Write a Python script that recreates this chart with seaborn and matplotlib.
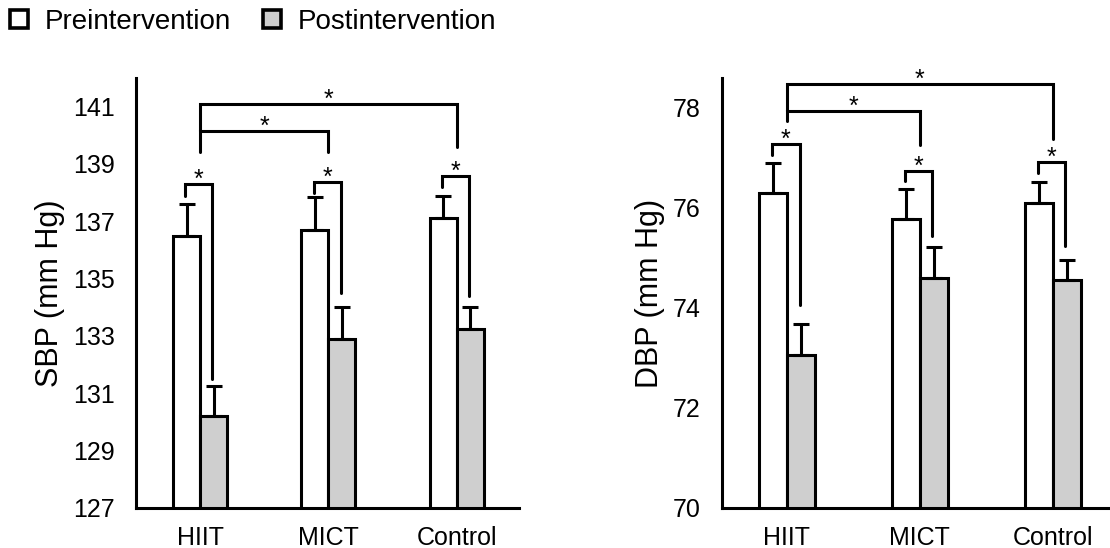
import pandas as pd
import numpy as np
import seaborn as sns
import matplotlib.pyplot as plt

groups = ["HIIT", "MICT", "Control"]
phases = ["Preintervention", "Postintervention"]

sbp_pre = [136.5, 136.7, 137.1]
sbp_pre_err = [1.12, 1.15, 0.78]
sbp_post = [130.2, 132.9, 133.25]
sbp_post_err = [1.07, 1.1, 0.75]

dbp_pre = [76.3, 75.78, 76.1]
dbp_pre_err = [0.6, 0.6, 0.42]
dbp_post = [73.05, 74.6, 74.55]
dbp_post_err = [0.63, 0.61, 0.41]

# pre vs post brackets: (left leg bottom, top, right leg bottom)
sbp_within = [(137.9, 138.3, 131.5), (138.0, 138.37, 134.5), (138.2, 138.57, 134.4)]
dbp_within = [(77.06, 77.28, 74.06), (76.53, 76.73, 75.43), (76.69, 76.91, 75.23)]
# HIIT vs other group brackets: (other group, left leg bottom, top, right leg bottom)
sbp_between = [(1, 139.43, 140.14, 139.43), (2, 140.14, 141.08, 139.6)]
dbp_between = [(1, 77.73, 77.94, 77.26), (2, 77.94, 78.47, 77.38)]

sns.set_style("white")
plt.rcParams['font.family'] = ['Liberation Sans', 'DejaVu Sans']
plt.rcParams['text.color'] = 'black'
plt.rcParams['axes.labelcolor'] = 'black'
plt.rcParams['xtick.color'] = 'black'
plt.rcParams['ytick.color'] = 'black'

fig = plt.figure(figsize=(11.1, 5.48), dpi=100)
ax1 = fig.add_axes([0.1225, 0.073, 0.3455, 0.7847])
ax2 = fig.add_axes([0.6502, 0.073, 0.3498, 0.7847])

width = 0.42
lw = 2.2


def panel(ax, pre, pre_err, post, post_err, within, between, ylim, yticks, ylabel, xlim):
    df = pd.DataFrame({
        "group": groups * 2,
        "phase": [phases[0]] * 3 + [phases[1]] * 3,
        "value": pre + post,
    })
    sns.barplot(data=df, x="group", y="value", hue="phase", hue_order=phases,
                palette=["white", "#cfcfcf"], edgecolor="black", linewidth=lw,
                width=width, gap=0, errorbar=None, ax=ax)
    xs = np.arange(len(groups))
    off = width / 4
    ax.errorbar(xs - off, pre, yerr=[np.zeros(3), pre_err], fmt="none",
                ecolor="black", elinewidth=lw, capsize=5.5, capthick=lw, zorder=3)
    ax.errorbar(xs + off, post, yerr=[np.zeros(3), post_err], fmt="none",
                ecolor="black", elinewidth=lw, capsize=5.5, capthick=lw, zorder=3)

    for i, (lb, top, rb) in enumerate(within):
        xl, xr = i - off - 0.01, i + off - 0.01
        ax.plot([xl, xl, xr, xr], [lb, top, top, rb], color="black", lw=lw,
                solid_joinstyle="miter", clip_on=False)
        ax.annotate("*", ((xl + xr) / 2, top), xytext=(0, -2), textcoords="offset points",
                    ha="center", va="baseline", fontsize=18)
    for j, lb, top, rb in between:
        ax.plot([0, 0, j, j], [lb, top, top, rb], color="black", lw=lw,
                solid_joinstyle="miter", clip_on=False)
        ax.annotate("*", (j / 2, top), xytext=(0, -2), textcoords="offset points",
                    ha="center", va="baseline", fontsize=18)

    ax.set_ylim(*ylim)
    ax.set_xlim(*xlim)
    ax.set_yticks(yticks)
    ax.set_xlabel("")
    ax.set_ylabel(ylabel, fontsize=22, labelpad=6)
    ax.tick_params(axis="y", length=6, width=lw, labelsize=18, pad=9)
    ax.tick_params(axis="x", length=0, labelsize=18, pad=13)
    for s in ["top", "right"]:
        ax.spines[s].set_visible(False)
    for s in ["left", "bottom"]:
        ax.spines[s].set_linewidth(lw)
        ax.spines[s].set_color("black")
    ax.get_legend().remove()


panel(ax1, sbp_pre, sbp_pre_err, sbp_post, sbp_post_err, sbp_within, sbp_between,
      (127, 142), range(127, 142, 2), "SBP (mm Hg)", (-0.5, 2.49))
panel(ax2, dbp_pre, dbp_pre_err, dbp_post, dbp_post_err, dbp_within, dbp_between,
      (70, 78.6), range(70, 79, 2), "DBP (mm Hg)", (-0.49, 2.43))

handles = [plt.Rectangle((0, 0), 1, 1, facecolor=c, edgecolor="black", linewidth=2.6)
           for c in ["white", "#cfcfcf"]]
fig.legend(handles, phases, ncol=2, frameon=False, loc="upper left",
           bbox_to_anchor=(0.009, 0.984), borderaxespad=0, borderpad=0,
           fontsize=20, handlelength=0.65, handleheight=0.65,
           handletextpad=0.6, columnspacing=1.15)

fig.savefig("out.png", dpi=100)
